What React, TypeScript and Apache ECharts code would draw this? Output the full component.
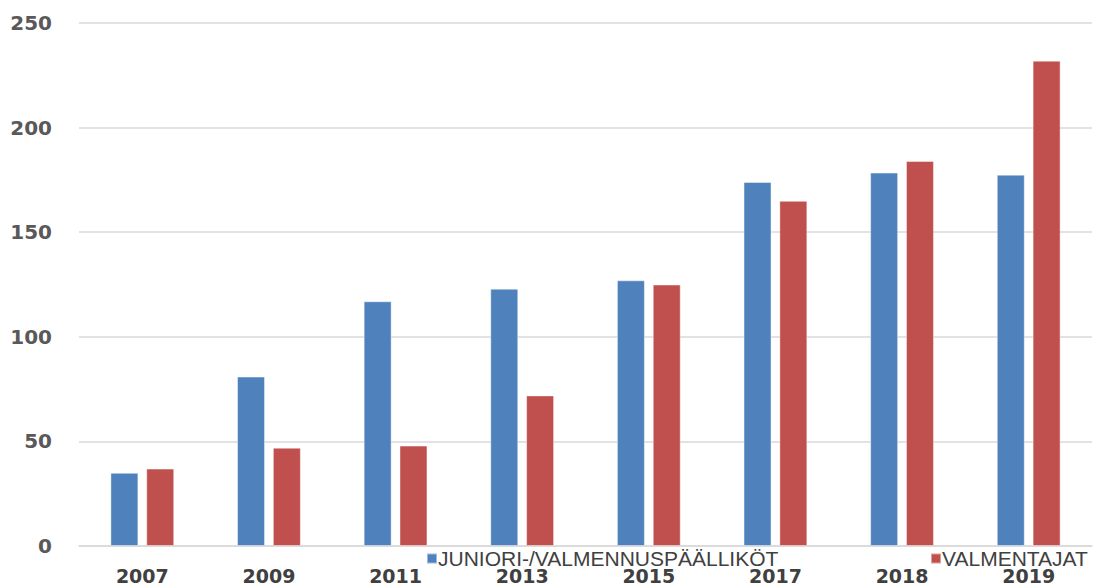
import React, { useEffect, useRef } from "react";
import * as echarts from "echarts";

const categories = ["2007", "2009", "2011", "2013", "2015", "2017", "2018", "2019"];
const seriesNames = ["JUNIORI-/VALMENNUSPÄÄLLIKÖT", "VALMENTAJAT"];
const juniorValues = [35, 81, 117, 123, 127, 174, 178.5, 177.5];
const coachValues = [37, 47, 48, 72, 125, 165, 184, 232];

export default function App() {
  const ref = useRef<HTMLDivElement>(null);
  useEffect(() => {
    document.body.style.margin = "0";
    if (!ref.current) return;
    const chart = echarts.init(ref.current, undefined, { renderer: "svg" });
    const legendText = {
      fontFamily: "'Liberation Sans', Arial, sans-serif",
      fontSize: 21,
      color: "#404040",
      padding: [0, 0, 0, -4],
    };
    chart.setOption({
      animation: false,
      backgroundColor: "#ffffff",
      grid: { left: 79, right: 2, top: 23, bottom: 37, containLabel: false },
      legend: [
        {
          data: [seriesNames[0]],
          left: 421,
          top: 543,
          itemWidth: 10,
          itemHeight: 10,
          icon: "rect",
          textStyle: legendText,
        },
        {
          data: [seriesNames[1]],
          left: 925,
          top: 543,
          itemWidth: 10,
          itemHeight: 10,
          icon: "rect",
          textStyle: legendText,
        },
      ],
      xAxis: {
        type: "category",
        data: categories,
        axisLine: { show: true, lineStyle: { color: "#d9d9d9", width: 1.5 } },
        axisTick: { show: false },
        axisLabel: {
          margin: 20,
          fontFamily: "'DejaVu Sans', sans-serif",
          fontWeight: "bold",
          fontSize: 19,
          color: "#404040",
        },
      },
      yAxis: {
        type: "value",
        min: 0,
        max: 250,
        interval: 50,
        axisLine: { show: false },
        axisTick: { show: false },
        splitLine: { lineStyle: { color: "#d9d9d9", width: 1.5 } },
        axisLabel: {
          margin: 27,
          fontFamily: "'DejaVu Sans', sans-serif",
          fontWeight: "bold",
          fontSize: 20,
          color: "#595959",
        },
      },
      series: [
        {
          name: seriesNames[0],
          type: "bar",
          data: juniorValues,
          barWidth: 28,
          barGap: "28%",
          itemStyle: { color: "#4f81bd", borderColor: "rgba(255,255,255,0.45)", borderWidth: 1 },
        },
        {
          name: seriesNames[1],
          type: "bar",
          data: coachValues,
          barWidth: 28,
          barGap: "28%",
          itemStyle: { color: "#c0504d", borderColor: "rgba(255,255,255,0.45)", borderWidth: 1 },
        },
      ],
    });
    return () => chart.dispose();
  }, []);
  return <div ref={ref} style={{ width: 1094, height: 585 }} />;
}
